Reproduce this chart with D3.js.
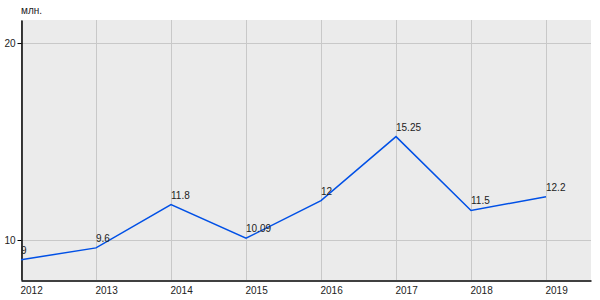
<!DOCTYPE html>
<html>
<head>
<meta charset="utf-8">
<script src="https://cdn.jsdelivr.net/npm/d3@7"></script>
<style>
  body { margin: 0; background: #fff; }
  svg { display: block; font-family: "Liberation Sans", Arial, sans-serif; }
</style>
</head>
<body>
<svg id="chart" width="600" height="300"></svg>
<script>
const years = [2012, 2013, 2014, 2015, 2016, 2017, 2018, 2019];
const values = [9, 9.6, 11.8, 10.09, 12, 15.25, 11.5, 12.2];
const labels = ['9', '9.6', '11.8', '10.09', '12', '15.25', '11.5', '12.2'];
const yTicks = [10, 20];
const unit = 'млн.';

const margin = {top: 20, right: 9, bottom: 20, left: 21};
const width = 600, height = 300;
const fontSize = 10;

// годы идут по шагу ~75px, справа остаётся запас
const x = d3.scaleLinear()
  .domain([2012, 2019.6])
  .range([margin.left, width - margin.right]);

const y = d3.scaleLinear()
  .domain([7.97, 21.17])
  .range([height - margin.bottom, margin.top]);

const svg = d3.select('#chart');

// фон
svg.append('rect')
  .attr('x', margin.left)
  .attr('y', margin.top)
  .attr('width', width - margin.right - margin.left)
  .attr('height', height - margin.bottom - margin.top)
  .attr('fill', '#ebebeb');

// сетка
svg.append('g')
  .selectAll('line')
  .data(years)
  .join('line')
  .attr('x1', d => x(d) + 0.5)
  .attr('x2', d => x(d) + 0.5)
  .attr('y1', margin.top)
  .attr('y2', height - margin.bottom)
  .attr('stroke', '#c8c8c8');

svg.append('g')
  .selectAll('line')
  .data(yTicks)
  .join('line')
  .attr('x1', margin.left)
  .attr('x2', width - margin.right)
  .attr('y1', d => Math.round(y(d)) + 0.5)
  .attr('y2', d => Math.round(y(d)) + 0.5)
  .attr('stroke', '#c8c8c8');

// оси
const yAxis = svg.append('g')
  .attr('transform', `translate(${margin.left + 0.5},0)`)
  .call(d3.axisLeft(y).tickValues(yTicks).tickSize(4).tickPadding(2).tickSizeOuter(0));
yAxis.select('.domain').attr('stroke', '#000').attr('stroke-width', 1.5);
yAxis.selectAll('text').attr('font-size', fontSize).attr('fill', '#222')
  .attr('font-family', '"Liberation Sans", Arial, sans-serif');

const xAxis = svg.append('g')
  .attr('transform', `translate(0,${height - margin.bottom + 0.5})`)
  .call(d3.axisBottom(x).tickValues(years).tickFormat(d3.format('d')).tickSize(0).tickPadding(6).tickSizeOuter(0));
xAxis.select('.domain').attr('stroke', '#000').attr('stroke-width', 1.5);
xAxis.selectAll('text')
  .attr('text-anchor', 'start')
  .attr('dx', -1)
  .attr('font-size', fontSize)
  .attr('fill', '#222')
  .attr('font-family', '"Liberation Sans", Arial, sans-serif');

svg.append('text')
  .attr('x', margin.left)
  .attr('y', 14)
  .attr('font-size', fontSize)
  .attr('fill', '#222')
  .text(unit);

// линия
const line = d3.line()
  .x((d, i) => x(years[i]))
  .y(d => y(d));

svg.append('path')
  .datum(values)
  .attr('fill', 'none')
  .attr('stroke', '#0050e6')
  .attr('stroke-width', 1.5)
  .attr('d', line);

// подписи значений
svg.append('g')
  .selectAll('text')
  .data(values)
  .join('text')
  .attr('x', (d, i) => x(years[i]))
  .attr('y', d => y(d) - 6)
  .attr('font-size', fontSize)
  .attr('fill', '#222')
  .text((d, i) => labels[i]);
</script>
</body>
</html>
